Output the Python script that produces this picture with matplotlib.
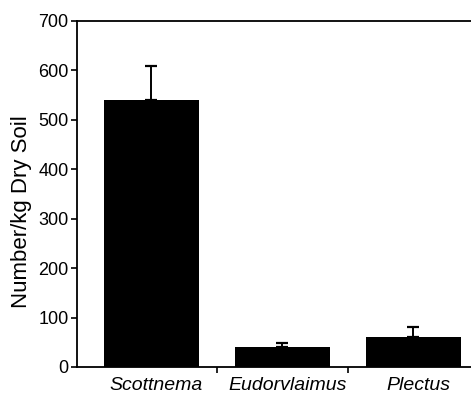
import numpy as np
import matplotlib.pyplot as plt
import matplotlib.transforms as mtransforms

plt.rcParams['font.family'] = ['Liberation Sans', 'DejaVu Sans']

species = ['Scottnema', 'Eudorvlaimus', 'Plectus']
means = [541, 41, 60]
errors = [67, 8, 21]

fig = plt.figure(figsize=(4.71, 3.95), dpi=100)
ax = fig.add_axes([0.163, 0.071, 0.837, 0.876])

x = np.arange(len(species))
ax.bar(x, means, width=0.72, color='black', zorder=2)
ax.errorbar(x, means, yerr=[np.zeros(len(errors)), errors], fmt='none',
            ecolor='black', elinewidth=1.4, capsize=4.5, capthick=1.6, zorder=1)

ax.set_xlim(-0.57, 2.44)
ax.set_ylim(0, 700)
ax.set_yticks(range(0, 701, 100))
ax.tick_params(axis='y', labelsize=13, length=4, width=1.2, pad=2)
ax.set_xticks(x)
ax.set_xticklabels(species, fontsize=14, style='italic')
ax.tick_params(axis='x', length=0, pad=7)
ax.set_xticks([0.5, 1.5], minor=True)
ax.tick_params(axis='x', which='minor', length=4, width=1.2)

# italic labels sit a little right of the bar centres in the original
shift = mtransforms.ScaledTranslation(5 / 100, 0, fig.dpi_scale_trans)
for lab in ax.get_xticklabels():
    lab.set_transform(lab.get_transform() + shift)

ax.spines['right'].set_visible(False)
for s in ['left', 'top', 'bottom']:
    ax.spines[s].set_linewidth(1.3)

ax.set_ylabel('Number/kg Dry Soil', fontsize=16)
ax.yaxis.set_label_coords(-0.114, 0.45)

plt.savefig('out.png', dpi=100)
